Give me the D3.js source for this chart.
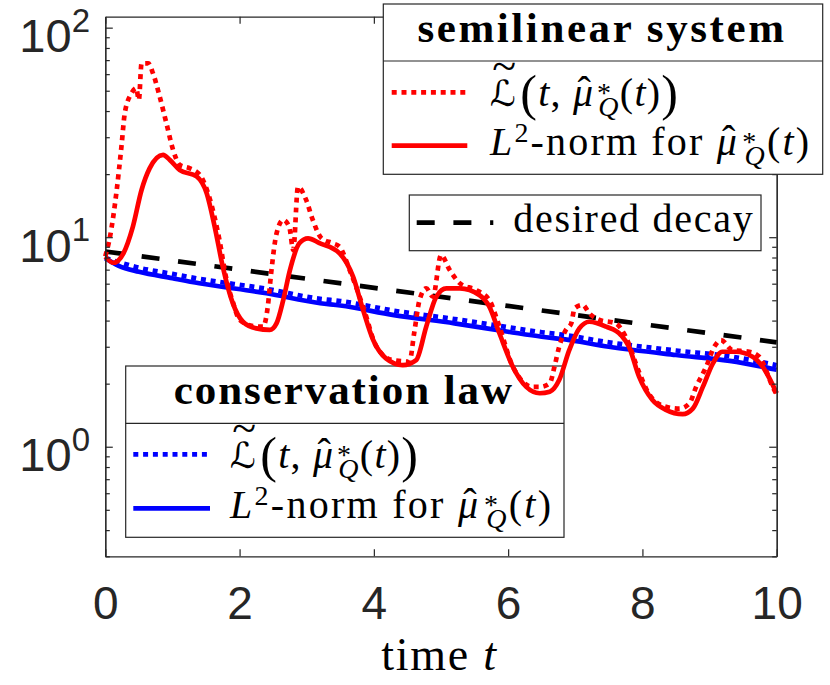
<!DOCTYPE html>
<html>
<head>
<meta charset="utf-8" />
<title>semilinear vs conservation law decay</title>
<style>
body { margin: 0; background: #fff; }
svg { display: block; }
.axis path, .axis line { stroke: #262626; stroke-width: 1.2; fill: none; }
.tickLabel { font-family: "Liberation Sans", Arial, sans-serif; fill: #262626; }
.serif { font-family: "Liberation Serif", "DejaVu Serif", serif; fill: #000; }
.legendBox { fill: #fff; stroke: #262626; stroke-width: 1.2; }
</style>
</head>
<body>
<div id="graph"></div>

<script src="https://cdnjs.cloudflare.com/ajax/libs/d3/7.8.5/d3.min.js"></script>
<script>
!(function(){
    "use strict"

    // semilinear system: Ltilde (dotted) and L2-norm (solid)
    var semiLossT = [0, 0.07, 0.17, 0.24, 0.29, 0.39, 0.46, 0.5, 0.54, 0.64,
        0.71, 0.81, 0.91, 1.01, 1.11, 1.26, 1.41, 1.56, 1.7, 1.8,
        1.9, 2.0, 2.2, 2.35, 2.42, 2.47, 2.55, 2.65, 2.74, 2.8,
        2.87, 2.99, 3.09, 3.22, 3.39, 3.49, 3.64, 3.84, 4.04, 4.28,
        4.53, 4.6, 4.68, 4.78, 4.88, 5.0, 5.13, 5.28, 5.52, 5.72,
        5.87, 6.07, 6.37, 6.47, 6.62, 6.69, 6.76, 6.86, 6.94, 6.99,
        7.11, 7.21, 7.36, 7.6, 7.75, 7.95, 8.1, 8.35, 8.55, 8.7,
        8.8, 8.95, 9.07, 9.17, 9.34, 9.59, 9.74, 9.94, 10]
    var semiLossV = [8.1, 10.05, 16.8, 27.0, 39.0, 48.6, 51.4, 45.2, 67.6, 67.6,
        60.6, 46.9, 35.0, 26.1, 22.1, 21.3, 19.8, 15.1, 9.7, 6.4,
        4.9, 4.03, 3.77, 3.74, 4.66, 6.73, 10.4, 12.1, 11.2, 8.69,
        17.4, 15.1, 12.1, 9.88, 9.35, 9.0, 6.97, 4.66, 3.0, 2.59,
        2.55, 3.48, 5.01, 5.7, 5.2, 8.22, 6.97, 6.03, 5.6, 5.01,
        3.74, 2.41, 1.93, 1.93, 2.01, 2.41, 3.0, 3.61, 3.88, 4.58,
        4.75, 4.33, 4.03, 3.88, 3.35, 2.27, 1.78, 1.55, 1.52, 1.61,
        1.93, 2.41, 3.0, 3.23, 2.89, 2.84, 2.69, 1.93, 1.77]

    var semiNormT = [0, 0.12, 0.27, 0.41, 0.54, 0.66, 0.86, 0.96, 1.11, 1.36,
        1.51, 1.63, 1.75, 1.9, 2.05, 2.25, 2.45, 2.55, 2.65, 2.75,
        2.89, 3.02, 3.19, 3.49, 3.69, 3.84, 3.99, 4.18, 4.43, 4.63,
        4.78, 4.93, 5.08, 5.28, 5.57, 5.72, 5.87, 6.07, 6.27, 6.47,
        6.62, 6.76, 6.91, 7.06, 7.21, 7.46, 7.68, 7.8, 7.95, 8.15,
        8.35, 8.6, 8.75, 8.9, 9.05, 9.19, 9.39, 9.64, 9.79, 10]
    var semiNormV = [8.07, 7.55, 8.38, 11.2, 16.8, 21.3, 24.7, 23.4, 20.9, 19.5,
        16.2, 11.2, 7.23, 4.83, 3.95, 3.67, 3.61, 3.88, 5.01, 6.97,
        9.35, 9.88, 9.38, 8.38, 6.48, 4.49, 3.23, 2.64, 2.45, 2.59,
        3.74, 5.2, 5.7, 5.7, 5.3, 4.66, 3.48, 2.41, 1.93, 1.80,
        1.83, 2.08, 2.89, 3.67, 3.95, 3.74, 3.41, 3.0, 2.16, 1.67,
        1.50, 1.43, 1.52, 1.93, 2.50, 2.84, 2.84, 2.69, 2.41, 1.80]

    // conservation law
    var consT     = [0, 0.2, 0.5, 1.0, 1.4, 2.4, 3.2, 3.5, 4.3, 5.2, 6.0, 6.5, 6.8, 7.5, 8.5, 9.3, 10]
    var consLossV = [7.95, 7.6, 7.15, 6.68, 6.33, 5.67, 5.08, 4.96, 4.46, 4.07, 3.72, 3.52, 3.43, 3.15, 2.88, 2.70, 2.45]
    var consNormV = [7.93, 7.3, 6.84, 6.37, 6.03, 5.4, 4.84, 4.72, 4.25, 3.88, 3.54, 3.35, 3.27, 3.0, 2.74, 2.57, 2.33]

    // desired decay (straight in log scale)
    var decayT = [0, 10]
    var decayV = [8.55, 3.15]

    var xTicks = [0, 2, 4, 6, 8, 10]
    var yMajor = [1, 10, 100]
    var yExp = ["0", "1", "2"]
    var yMinor = [0.3, 0.4, 0.5, 0.6, 0.7, 0.8, 0.9, 2, 3, 4, 5, 6, 7, 8, 9, 20, 30, 40, 50, 60, 70, 80, 90]

    var width = 830, height = 685
    var margin = {top: 16.7, left: 105.3, right: 53.3, bottom: 128.7}

    var svg = d3.select("#graph").append("svg").attr("width", width).attr("height", height)
    // the lower legend sits under the curves, the upper ones over the axes
    var lowLegendLayer = svg.append("g").classed("lowLegend", true)
    var chartLayer = svg.append("g").classed("chartLayer", true)
    var axisLayer = svg.append("g").classed("axis", true)
    var legendLayer = svg.append("g").classed("legendLayer", true)

    var xScale = d3.scaleLinear().domain([0, 10]).range([margin.left, width - margin.right])
    var yScale = d3.scaleLog().domain([0.3, 112.8]).range([height - margin.bottom, margin.top])

    var line = d3.line()
        .x(function(d){ return xScale(d[0]) })
        .y(function(d){ return yScale(d[1]) })
        .curve(d3.curveMonotoneX)

    function pairs(ts, vs) { return ts.map(function(t, i){ return [t, vs[i]] }) }

    var styles = {
        blueDot:  {stroke: "#0000ff", dash: "5,4.8"},
        blueLine: {stroke: "#0000ff", dash: null},
        redDot:   {stroke: "#ff0000", dash: "5,4.8"},
        redLine:  {stroke: "#ff0000", dash: null},
        black:    {stroke: "#000000", dash: "18,18.7"}
    }

    var series = [
        {data: pairs(consT, consLossV), s: styles.blueDot},
        {data: pairs(consT, consNormV), s: styles.blueLine},
        {data: pairs(decayT, decayV), s: styles.black},
        {data: pairs(semiLossT, semiLossV), s: styles.redDot},
        {data: pairs(semiNormT, semiNormV), s: styles.redLine}
    ]

    drawAxis()
    drawChart()
    drawLegend()

    function drawChart() {
        chartLayer.selectAll(".series").data(series).enter().append("path")
            .classed("series", true)
            .attr("d", function(d){ return line(d.data) })
            .attr("fill", "none")
            .attr("stroke", function(d){ return d.s.stroke })
            .attr("stroke-width", 4.7)
            .attr("stroke-dasharray", function(d){ return d.s.dash })
            .attr("stroke-linejoin", "round")
    }

    function drawAxis() {
        var x0 = xScale.range()[0], x1 = xScale.range()[1]
        var y0 = yScale.range()[0], y1 = yScale.range()[1]

        var bottom = axisLayer.append("g").attr("transform", "translate(0," + y0 + ")")
            .call(d3.axisBottom(xScale).tickValues(xTicks).tickSizeInner(-7).tickSizeOuter(0)
                .tickFormat(d3.format("d")))
        bottom.attr("font-size", null).attr("font-family", null)
        bottom.selectAll("text").classed("tickLabel", true)
            .attr("font-size", 46).attr("y", 62.7).attr("dy", 0)

        axisLayer.append("g").attr("transform", "translate(0," + y1 + ")")
            .call(d3.axisTop(xScale).tickValues(xTicks).tickSizeInner(-7).tickSizeOuter(0).tickFormat(""))

        axisLayer.append("g").attr("transform", "translate(" + x0 + ",0)")
            .call(d3.axisLeft(yScale).tickValues(yMajor).tickSizeInner(-7.5).tickSizeOuter(0).tickFormat(""))
        axisLayer.append("g").attr("transform", "translate(" + x0 + ",0)")
            .call(d3.axisLeft(yScale).tickValues(yMinor).tickSizeInner(-4.5).tickSizeOuter(0).tickFormat(""))
        axisLayer.append("g").attr("transform", "translate(" + x1 + ",0)")
            .call(d3.axisRight(yScale).tickValues(yMajor).tickSizeInner(-7.5).tickSizeOuter(0).tickFormat(""))
        axisLayer.append("g").attr("transform", "translate(" + x1 + ",0)")
            .call(d3.axisRight(yScale).tickValues(yMinor).tickSizeInner(-4.5).tickSizeOuter(0).tickFormat(""))

        // 10^k labels
        var yl = svg.append("g")
        yMajor.forEach(function(v, i){
            var t = yl.append("text").classed("tickLabel", true)
                .attr("x", 90).attr("y", yScale(v) + 24.5)
                .attr("text-anchor", "end").attr("font-size", 47)
            t.append("tspan").text("10")
            t.append("tspan").attr("font-size", 33).attr("dy", -20.5).text(yExp[i])
        })

        var xl = svg.append("text").classed("serif", true)
            .attr("x", (x0 + x1) / 2 - 1.5).attr("y", 670)
            .attr("text-anchor", "middle").attr("font-size", 46)
        xl.append("tspan").text("time ")
        xl.append("tspan").attr("font-style", "italic").text("t")
        fit(xl, 116)
    }

    function fit(sel, target) {
        var node = sel.node()
        var n = node.getNumberOfChars()
        var w = node.getBBox().width
        if (n > 1) sel.style("letter-spacing", ((target - w) / (n - 1)) + "px")
    }

    function mathLabel(g, x, y, parts, target) {
        var t = g.append("text").classed("serif", true)
            .attr("x", x).attr("y", y).attr("font-size", 40)
        parts.forEach(function(p){
            var ts = t.append("tspan").text(p.t)
            if (p.it) ts.attr("font-style", "italic")
            if (p.fs) ts.attr("font-size", p.fs)
            if (p.dx) ts.attr("dx", p.dx)
            if (p.dy) ts.attr("dy", p.dy)
            if (p.ff) ts.attr("font-family", p.ff)
            if (p.ls != null) ts.style("letter-spacing", p.ls + "px")
        })
        if (target) fit(t, target)
        return t
    }

    // hat over mu, then star (superscript) and Q (subscript) stacked
    function muParts() {
        return [
            {t: "\u03bc", it: true},
            {t: "\u02c6", dx: -17, dy: -2, fs: 40},
            {t: "*", fs: 28, dx: 5, dy: -2},
            {t: "Q", it: true, fs: 28, dx: -14, dy: 14},
            {t: "(", dy: -10},
            {t: "t", it: true},
            {t: ")"}
        ]
    }

    // Ltilde(t, mu_Q(t))
    function lossParts() {
        return [
            {t: "\u2112", ff: "DejaVu Sans", fs: 36},
            {t: "~", fs: 44, dx: -25, dy: -25},
            {t: "(", fs: 50, dx: 3, dy: 29},
            {t: "t", it: true, dy: -4},
            {t: ", "}
        ].concat(muParts()).concat([
            {t: ")", fs: 50, dy: 4}
        ])
    }
    // L^2-norm for mu_Q(t)
    function normParts() {
        return [
            {t: "L", it: true},
            {t: "2", fs: 28, dy: -13},
            {t: "-norm for ", dy: 13}
        ].concat(muParts())
    }

    function sample(g, x0, x1, y, s) {
        g.append("line").attr("x1", x0).attr("x2", x1).attr("y1", y).attr("y2", y)
            .attr("stroke", s.stroke).attr("stroke-width", 4.7)
            .attr("stroke-dasharray", s.dash)
    }

    function boxedLegend(layer, spec) {
        var g = layer.append("g")
        g.append("rect").classed("legendBox", true)
            .attr("x", spec.x).attr("y", spec.y).attr("width", spec.w).attr("height", spec.h)
        if (spec.title) {
            g.append("line").attr("x1", spec.x).attr("x2", spec.x + spec.w)
                .attr("y1", spec.div).attr("y2", spec.div)
                .attr("stroke", "#262626").attr("stroke-width", 1.2)
            var tt = g.append("text").classed("serif", true)
                .attr("x", spec.x + spec.w / 2 - 1).attr("y", spec.titleY)
                .attr("text-anchor", "middle").attr("font-size", 43).attr("font-weight", "bold")
                .text(spec.title)
            fit(tt, spec.titleW)
        }
        return g
    }

    function drawLegend() {
        // semilinear system
        var g1 = boxedLegend(legendLayer, {x: 383.3, y: 4, w: 439.4, h: 170.3, div: 61,
            title: "semilinear system", titleY: 42.3, titleW: 366.7})
        sample(g1, 391.7, 467.3, 92.3, styles.redDot)
        sample(g1, 391.7, 467.3, 145.7, styles.redLine)
        mathLabel(g1, 490, 106, lossParts(), 188)
        mathLabel(g1, 490, 155, normParts(), 320)

        // desired decay
        var g2 = boxedLegend(legendLayer, {x: 409.3, y: 195, w: 351.7, h: 55.7})
        sample(g2, 416.7, 493.3, 222.7, styles.black)
        var dd = g2.append("text").classed("serif", true).attr("x", 513.3).attr("y", 232)
            .attr("font-size", 40).text("desired decay")
        fit(dd, 239.4)

        // conservation law
        var g3 = boxedLegend(lowLegendLayer, {x: 125.7, y: 366, w: 438.3, h: 171.3, div: 423.3,
            title: "conservation law", titleY: 404, titleW: 338.4})
        sample(g3, 133.3, 210, 454.3, styles.blueDot)
        sample(g3, 133.3, 210, 508.3, styles.blueLine)
        mathLabel(g3, 230, 468, lossParts(), 188)
        mathLabel(g3, 230, 518, normParts(), 322)
    }

}());
</script>
</body>
</html>
